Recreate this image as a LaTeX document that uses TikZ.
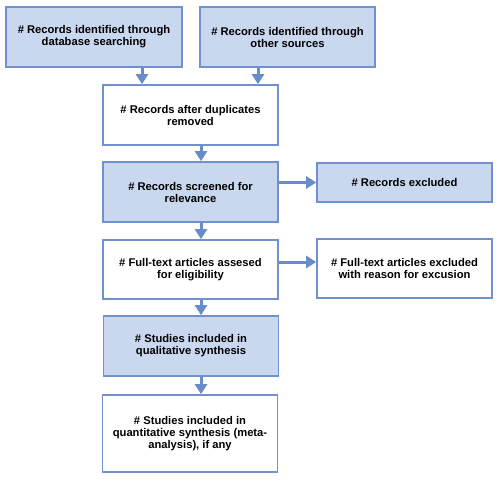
\documentclass[tikz,border=0pt]{standalone}
\usepackage{fontspec}
\setmainfont{Liberation Sans}
\usetikzlibrary{arrows.meta}
\definecolor{boxfill}{RGB}{201,215,239}
\definecolor{boxline}{RGB}{112,144,206}
\definecolor{arrowcol}{RGB}{104,140,202}
\tikzset{
  base/.style={draw=boxline, line width=1.6pt, rectangle, align=center,
    minimum width=175pt, minimum height=60pt, inner sep=2pt,
    font=\fontsize{11.2pt}{12pt}\selectfont\bfseries},
  bluebox/.style={base, fill=boxfill},
  whitebox/.style={base, fill=white},
  flow/.style={draw=arrowcol, line width=3pt,
    -{Triangle[length=10pt,width=12pt]}}
}
\begin{document}
\begin{tikzpicture}[x=1pt,y=-1pt]
\useasboundingbox (0,0) rectangle (500,481);
\node[bluebox, minimum width=176pt] (b1) at (94,37) {\# Records identified through\\database searching};
\node[bluebox] (b2) at (287.5,37) {\# Records identified through\\other sources};
\node[whitebox] (b3) at (190.5,115) {\# Records after duplicates\\removed};
\node[bluebox] (b4) at (190.5,192) {\# Records screened for\\relevance};
\node[bluebox, minimum height=39pt] (e1) at (404.5,182.5) {\# Records excluded};
\node[whitebox, minimum height=59pt] (b5) at (190.5,269.5) {\# Full-text articles assesed\\for eligibility};
\node[whitebox, minimum height=59pt] (e2) at (404.5,268.5) {\# Full-text articles excluded\\with reason for excusion};
\node[bluebox] (b6) at (191,346) {\# Studies included in\\qualitative synthesis};
\node[whitebox, minimum height=77pt] (b7) at (190,433.5) {\# Studies included in\\quantitative synthesis (meta-\\analysis), if any};
\coordinate (x1) at (142,0);
\coordinate (x2) at (258,0);
\coordinate (x3) at (201,0);
\coordinate (y5) at (0,262);
\draw[flow] (b1.south -| x1) -- (b3.north -| x1);
\draw[flow] (b2.south -| x2) -- (b3.north -| x2);
\draw[flow] (b3.south -| x3) -- (b4.north -| x3);
\draw[flow] (b4.south -| x3) -- (b5.north -| x3);
\draw[flow] (b5.south -| x3) -- (b6.north -| x3);
\draw[flow] (b6.south -| x3) -- (b7.north -| x3);
\draw[flow] (b4.east |- e1.west) -- (e1.west);
\draw[flow] (b5.east |- y5) -- (e2.west |- y5);
\end{tikzpicture}
\end{document}
